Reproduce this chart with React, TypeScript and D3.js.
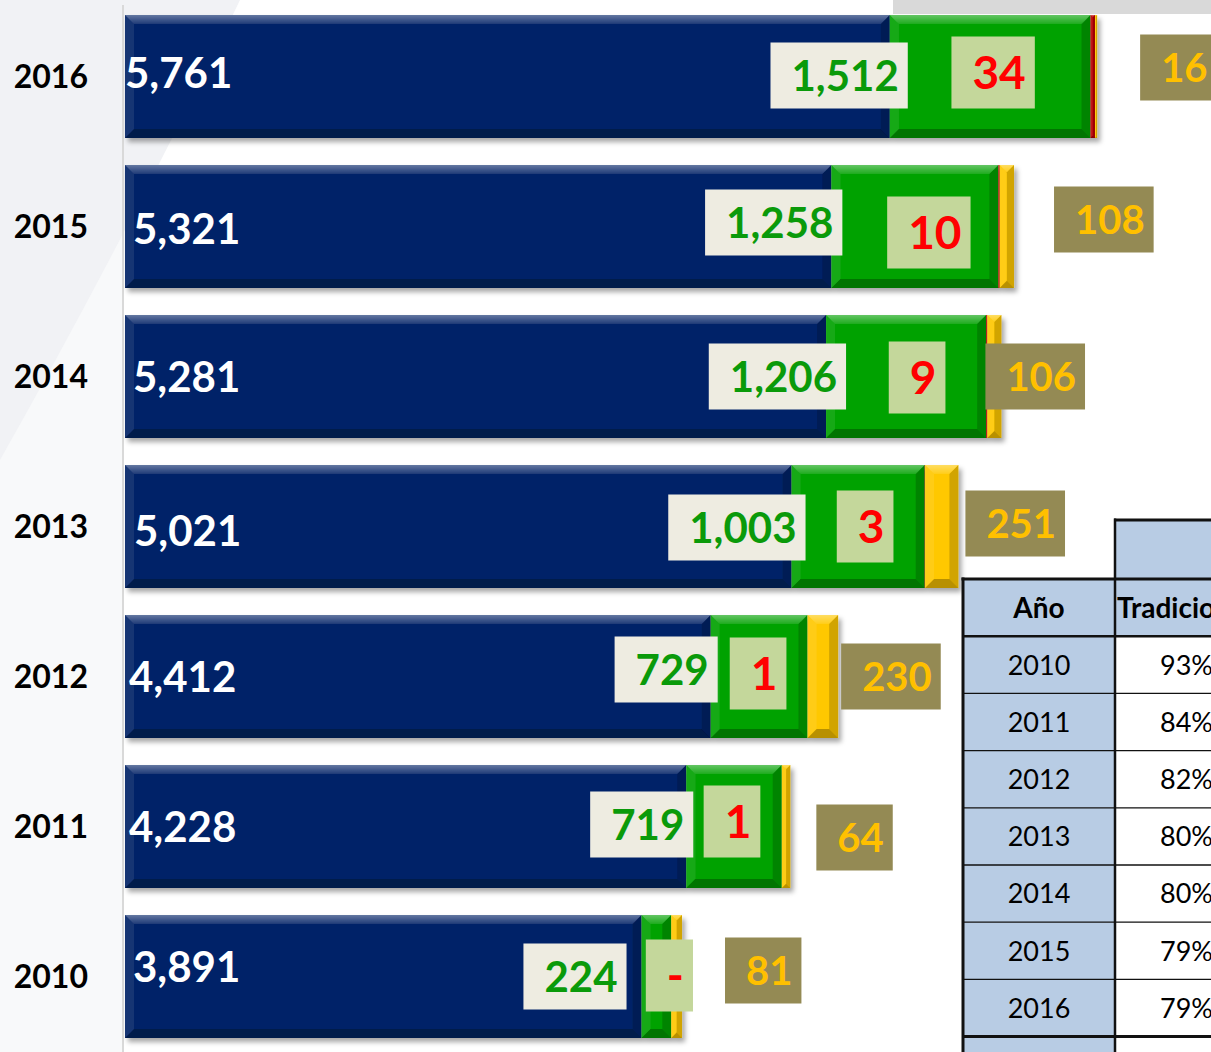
import React, { useEffect, useRef } from "react";
import * as d3 from "d3";

// ---- data (chart rows, top to bottom) ----
const years = ["2016", "2015", "2014", "2013", "2012", "2011", "2010"];
const tradicional = [5761, 5321, 5281, 5021, 4412, 4228, 3891];
const verde = [1512, 1258, 1206, 1003, 729, 719, 224];
const rojo = [34, 10, 9, 3, 1, 1, 0];
const amarillo = [16, 108, 106, 251, 230, 64, 81];

// table
const tableYears = ["2010", "2011", "2012", "2013", "2014", "2015", "2016"];
const tableHeaders = ["Año", "Tradicional"];

// label nudges (relative offsets of hand-placed labels)
const navyDx = [0, 8, 8, 9, 4, 4, 8];
const navyDy = [-4, 2, 0, 4, 0, 0, -10];
const greenDx = [18, 11, 20, 14, 7, 7, -15];
const greenDy = [-1, -4, 0, 1, -7, -2, 0];
const redDx = [3, 14, 11, 7, -1, -2, 13];
const redDy = [-4, 6, 1, 0, -3, -5, -1];
const yellowDx = [43, 40, -16, 7, 3, 26, 43];
const yellowDy = [-9, -7, 0, -3, 0, 11, -6];

const W = 1211;
const H = 1052;
const FONT = "Lato, 'Open Sans', sans-serif";

export default function App() {
  const ref = useRef<SVGSVGElement>(null);

  useEffect(() => {
    document.body.style.margin = "0";
    const svg = d3.select(ref.current);
    svg.selectAll("*").remove();
    const defs = svg.append("defs");
    const f = defs
      .append("filter")
      .attr("id", "sh")
      .attr("x", "-5%")
      .attr("y", "-10%")
      .attr("width", "115%")
      .attr("height", "130%");
    f.append("feDropShadow")
      .attr("dx", 3)
      .attr("dy", 4)
      .attr("stdDeviation", 2.5)
      .attr("flood-color", "#000")
      .attr("flood-opacity", 0.35);

    const gTop = defs.append("linearGradient").attr("id", "gTop").attr("x1", 0).attr("y1", 0).attr("x2", 0).attr("y2", 1);
    gTop.append("stop").attr("offset", 0).attr("stop-color", "#fff").attr("stop-opacity", 0.38);
    gTop.append("stop").attr("offset", 1).attr("stop-color", "#fff").attr("stop-opacity", 0.1);

    // background
    svg.append("rect").attr("width", W).attr("height", H).attr("fill", "#ffffff");
    svg.append("rect").attr("x", 0).attr("y", 0).attr("width", 123).attr("height", H).attr("fill", "#F8F9FA");
    svg.append("path").attr("d", "M0,0 L240,0 Q130,230 0,460 Z").attr("fill", "#F1F2F5");
    svg.append("rect").attr("x", 893).attr("y", 0).attr("width", W - 893).attr("height", 14).attr("fill", "#D9D9D9");

    // scales
    const x = d3.scaleLinear().domain([0, 8000]).range([125, 1187]);
    const y = d3
      .scaleBand<string>()
      .domain(years)
      .range([1.5, 1051.5])
      .paddingInner(0.18)
      .paddingOuter(0.09);

    const keys = ["tradicional", "verde", "rojo", "amarillo"];
    const colors: Record<string, string> = {
      tradicional: "#052468",
      verde: "#05A205",
      rojo: "#C00000",
      amarillo: "#FFC800",
    };
    const rows = years.map((yr, i) => ({
      year: yr,
      tradicional: tradicional[i],
      verde: verde[i],
      rojo: rojo[i],
      amarillo: amarillo[i],
    }));
    const stacked = d3.stack<any>().keys(keys)(rows);

    // axis line
    svg.append("line").attr("x1", 123).attr("x2", 123).attr("y1", 5).attr("y2", H).attr("stroke", "#D9D9D9").attr("stroke-width", 2);

    // bars
    const barsG = svg.append("g");
    rows.forEach((r, i) => {
      const g = barsG.append("g").attr("filter", "url(#sh)");
      const y0 = y(r.year)!;
      const y1 = y0 + y.bandwidth();
      stacked.forEach((s) => {
        const d = s[i];
        const x0 = x(d[0]);
        const x1 = x(d[1]);
        const w = x1 - x0;
        if (w < 0.3) return;
        const b = Math.min(9, w / 2, (y1 - y0) / 2);
        g.append("rect").attr("x", x0).attr("y", y0).attr("width", w).attr("height", y1 - y0).attr("fill", colors[s.key]);
        g.append("polygon")
          .attr("points", `${x0},${y0} ${x1},${y0} ${x1 - b},${y0 + b} ${x0 + b},${y0 + b}`)
          .attr("fill", "url(#gTop)");
        g.append("polygon")
          .attr("points", `${x0},${y0} ${x0 + b},${y0 + b} ${x0 + b},${y1 - b} ${x0},${y1}`)
          .attr("fill", "#fff")
          .attr("opacity", 0.08);
        g.append("polygon")
          .attr("points", `${x1},${y0} ${x1 - b},${y0 + b} ${x1 - b},${y1 - b} ${x1},${y1}`)
          .attr("fill", "#000")
          .attr("opacity", 0.18);
        g.append("polygon")
          .attr("points", `${x0},${y1} ${x1},${y1} ${x1 - b},${y1 - b} ${x0 + b},${y1 - b}`)
          .attr("fill", "#000")
          .attr("opacity", 0.28);
      });
    });

    // year labels
    svg
      .append("g")
      .selectAll("text")
      .data(years)
      .join("text")
      .attr("x", 88)
      .attr("y", (d) => y(d)! + y.bandwidth() / 2)
      .attr("dy", "0.36em")
      .attr("text-anchor", "end")
      .attr("font-family", FONT)
      .attr("font-weight", 700)
      .attr("font-size", 32)
      .attr("fill", "#000")
      .text((d) => d);

    const fmt = d3.format(",");
    const labels = svg.append("g");

    const boxLabel = (
      txt: string,
      fs: number,
      color: string,
      bg: string,
      h: number,
      place: (w: number) => { left: number; cy: number }
    ) => {
      const grp = labels.append("g");
      const rect = grp.append("rect");
      const t = grp
        .append("text")
        .attr("font-family", FONT)
        .attr("font-weight", 700)
        .attr("font-size", fs)
        .attr("fill", color)
        .attr("text-anchor", "end")
        .attr("dy", "0.36em")
        .text(txt);
      const tw = (t.node() as SVGTextElement).getComputedTextLength();
      const bw = tw + 30;
      const { left, cy } = place(bw);
      rect.attr("x", left).attr("y", cy - h / 2).attr("width", bw).attr("height", h).attr("fill", bg);
      t.attr("x", left + bw - 9).attr("y", cy);
    };

    rows.forEach((r, i) => {
      const cy = y(r.year)! + y.bandwidth() / 2;
      // navy value
      labels
        .append("text")
        .attr("x", x(0) + navyDx[i])
        .attr("y", cy + navyDy[i])
        .attr("dy", "0.36em")
        .attr("font-family", FONT)
        .attr("font-weight", 700)
        .attr("font-size", 42)
        .attr("fill", "#ffffff")
        .text(fmt(r.tradicional));

      const navyEnd = x(stacked[0][i][1]);
      const greenMid = (x(stacked[1][i][0]) + x(stacked[1][i][1])) / 2;
      const barEnd = x(stacked[3][i][1]);

      boxLabel(fmt(r.verde), 42, "#0A9A0A", "#EEECE1", 66, (w) => ({
        left: navyEnd + greenDx[i] - w,
        cy: cy + greenDy[i],
      }));
      boxLabel(r.rojo === 0 ? "-" : fmt(r.rojo), 46, "#FF0000", "#C4D79B", 72, (w) => ({
        left: greenMid + redDx[i] - w / 2,
        cy: cy + redDy[i],
      }));
      boxLabel(fmt(r.amarillo), 40, "#FFC000", "#948A54", 66, () => ({
        left: barEnd + yellowDx[i],
        cy: cy + yellowDy[i],
      }));
    });

    // ---- table ----
    const tbl = svg.append("g");
    const tx0 = 963;
    const tx1 = 1115;
    const tx2 = 1300;
    const rowKeys = ["header", ...tableYears, "total"];
    const ty = d3.scaleBand<string>().domain(rowKeys).range([579, 579 + rowKeys.length * 57.2]);
    const topY = 520;

    // backgrounds
    tbl.append("rect").attr("x", tx1).attr("y", topY).attr("width", tx2 - tx1).attr("height", ty("header")! - topY).attr("fill", "#B8CCE4");
    tbl.append("rect").attr("x", tx0).attr("y", ty("header")!).attr("width", tx2 - tx0).attr("height", ty.bandwidth()).attr("fill", "#B8CCE4");
    rowKeys.slice(1).forEach((k) => {
      tbl.append("rect").attr("x", tx0).attr("y", ty(k)!).attr("width", tx1 - tx0).attr("height", ty.bandwidth()).attr("fill", "#B8CCE4");
      tbl.append("rect").attr("x", tx1).attr("y", ty(k)!).attr("width", tx2 - tx1).attr("height", ty.bandwidth()).attr("fill", "#ffffff");
    });

    // row lines
    rowKeys.forEach((k, idx) => {
      if (idx < 2) return;
      const yy = ty(k)!;
      tbl.append("line")
        .attr("x1", tx0).attr("x2", tx2).attr("y1", yy).attr("y2", yy)
        .attr("stroke", "#111")
        .attr("stroke-width", k === "total" ? 3 : 1.3);
    });
    tbl.append("line").attr("x1", tx0).attr("x2", tx2).attr("y1", ty(tableYears[0])!).attr("y2", ty(tableYears[0])!).attr("stroke", "#111").attr("stroke-width", 2.5);
    tbl.append("line").attr("x1", tx0 - 1.5).attr("x2", tx2).attr("y1", ty("header")!).attr("y2", ty("header")!).attr("stroke", "#111").attr("stroke-width", 3);
    tbl.append("line").attr("x1", tx1 - 1).attr("x2", tx2).attr("y1", topY).attr("y2", topY).attr("stroke", "#111").attr("stroke-width", 3);
    tbl.append("line").attr("x1", tx0).attr("x2", tx0).attr("y1", ty("header")! - 1.5).attr("y2", H).attr("stroke", "#111").attr("stroke-width", 3);
    tbl.append("line").attr("x1", tx1).attr("x2", tx1).attr("y1", topY - 1.5).attr("y2", H).attr("stroke", "#111").attr("stroke-width", 2.5);

    const hc = ty("header")! + ty.bandwidth() / 2;
    tbl.append("text").attr("x", (tx0 + tx1) / 2).attr("y", hc).attr("dy", "0.36em").attr("text-anchor", "middle")
      .attr("font-family", FONT).attr("font-weight", 700).attr("font-size", 28).attr("fill", "#000").text(tableHeaders[0]);
    tbl.append("text").attr("x", tx1 + 2).attr("y", hc).attr("dy", "0.36em").attr("text-anchor", "start")
      .attr("font-family", FONT).attr("font-weight", 700).attr("font-size", 28).attr("fill", "#000").text(tableHeaders[1]);

    tableYears.forEach((yr) => {
      const i = years.indexOf(yr);
      const total = tradicional[i] + verde[i] + rojo[i] + amarillo[i];
      const pct = Math.round((tradicional[i] / total) * 100) + "%";
      const c = ty(yr)! + ty.bandwidth() / 2;
      tbl.append("text").attr("x", (tx0 + tx1) / 2).attr("y", c).attr("dy", "0.36em").attr("text-anchor", "middle")
        .attr("font-family", FONT).attr("font-size", 27).attr("fill", "#000").text(yr);
      tbl.append("text").attr("x", 1160).attr("y", c).attr("dy", "0.36em").attr("text-anchor", "start")
        .attr("font-family", FONT).attr("font-size", 27).attr("fill", "#000").text(pct);
    });
  }, []);

  return (
    <svg
      ref={ref}
      width={W}
      height={H}
      style={{ position: "absolute", left: 0, top: 0, display: "block", overflow: "hidden" }}
    />
  );
}
